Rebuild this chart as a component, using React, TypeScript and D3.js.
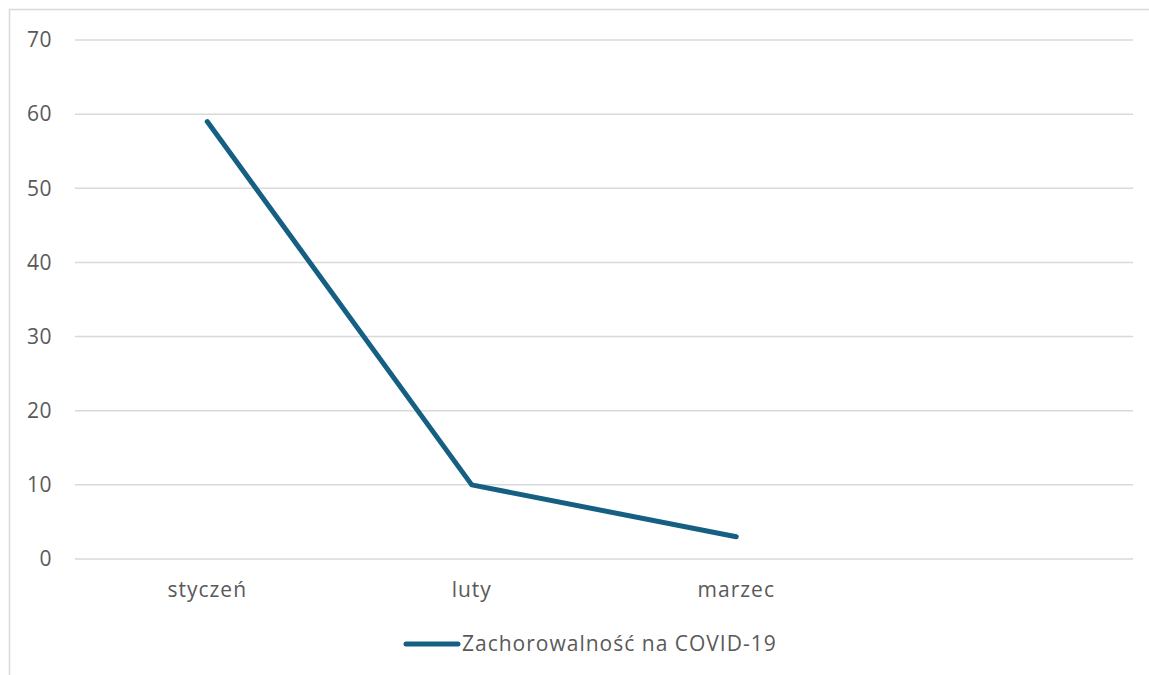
import React from "react";
import * as d3 from "d3";

const categories = ["styczeń", "luty", "marzec", ""];
const values: (number | null)[] = [59, 10, 3, null];
const yTicks = [0, 10, 20, 30, 40, 50, 60, 70];
const seriesName = "Zachorowalność na COVID-19";

export default function App() {
  const W = 1149, H = 675;
  const left = 75, right = 1133, top = 40, bottom = 559;
  const x = d3.scaleBand<string>().domain(categories.map((c, i) => String(i))).range([left, right]);
  const y = d3.scaleLinear().domain([0, 70]).range([bottom, top]);
  const pts = values
    .map((v, i) => ({ v, i }))
    .filter((d) => d.v !== null) as { v: number; i: number }[];
  const line = d3
    .line<{ v: number; i: number }>()
    .x((d) => (x(String(d.i)) as number) + x.bandwidth() / 2)
    .y((d) => y(d.v));
  const font = "'Open Sans', 'Liberation Sans', Arial, sans-serif";
  const color = "#156082";
  return (
    <svg
      width={W}
      height={H}
      style={{ position: "absolute", left: 0, top: 0 }}
      fontFamily={font}
    >
      <rect x={0} y={0} width={W} height={H} fill="#fff" />
      <rect x={9.5} y={9.5} width={W + 20} height={H + 20} fill="none" stroke="#d9d9d9" strokeWidth={1.5} />
      {yTicks.map((t) => (
        <g key={t}>
          <line x1={left} x2={right} y1={y(t)} y2={y(t)} stroke="#d9d9d9" strokeWidth={1.5} />
          <text x={52} y={y(t)} dy="0.35em" textAnchor="end" fontSize={21} fill="#595959" letterSpacing={0.5}>
            {t}
          </text>
        </g>
      ))}
      {categories.map((c, i) => (
        <text
          key={i}
          x={(x(String(i)) as number) + x.bandwidth() / 2}
          y={590}
          dy="0.35em"
          textAnchor="middle"
          fontSize={21}
          fill="#595959"
          letterSpacing={1}
        >
          {c}
        </text>
      ))}
      <path d={line(pts) || ""} fill="none" stroke={color} strokeWidth={5} strokeLinecap="round" strokeLinejoin="round" />
      <line x1={406} x2={458} y1={644} y2={644} stroke={color} strokeWidth={5} strokeLinecap="round" />
      <text x={462} y={644} dy="0.35em" fontSize={21} fill="#595959" letterSpacing={1}>
        {seriesName}
      </text>
    </svg>
  );
}
